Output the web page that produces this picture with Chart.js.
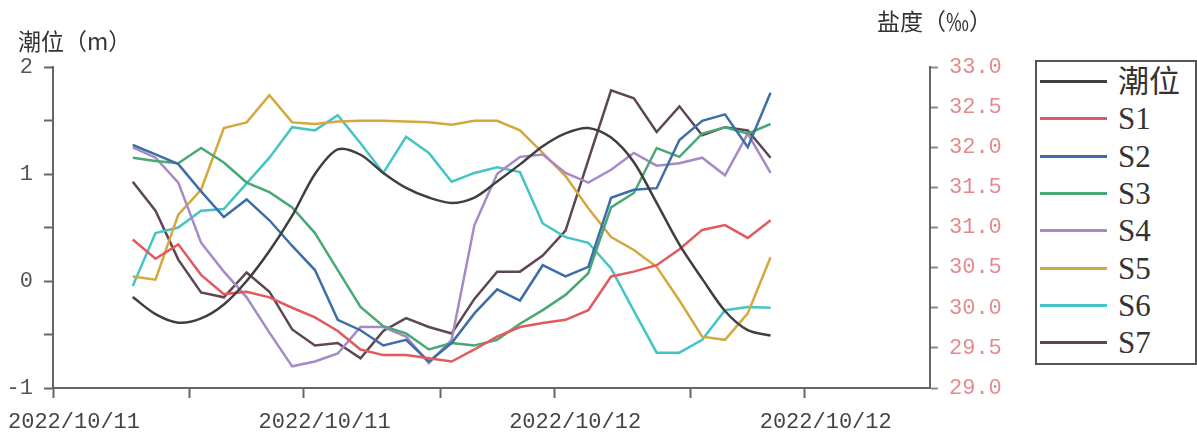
<!DOCTYPE html>
<html>
<head>
<meta charset="utf-8">
<script src="https://cdn.jsdelivr.net/npm/chart.js@4.4.1/dist/chart.umd.min.js"></script>
<style>
  html, body { margin: 0; padding: 0; background: #fff; }
  #wrap { position: relative; width: 1197px; height: 445px; overflow: hidden; }
  #chart { position: absolute; left: 0; top: 0; }
  .ttl { position: absolute; font-family: "Noto Sans CJK SC", sans-serif; font-size: 23px; color: #333; white-space: nowrap; line-height: 26px; }
  #legend { position: absolute; left: 1035px; top: 60px; width: 162px; height: 305px; border: 2px solid #555; box-sizing: border-box; background: #fff; }
  .row { position: absolute; left: 0; height: 36px; width: 200px; }
  .sw { position: absolute; left: 3px; top: 16px; width: 67px; height: 3px; }
  .lbl { position: absolute; left: 81px; top: 0; line-height: 36px; font-size: 31px; color: #333;
         font-family: "Liberation Serif", "Noto Sans CJK SC", serif; }
</style>
</head>
<body>
<div id="wrap">
  <canvas id="chart" width="1197" height="445"></canvas>
  <div class="ttl" style="left:18px; top:27px;">潮位（m）</div>
  <div class="ttl" style="left:877px; top:7px;">盐度（‰）</div>
  <div id="legend"></div>
</div>
<script>
// x axis: hourly samples 0..28, axis runs a bit wider than the data
const X_LABELS = ["2022/10/11", "2022/10/11", "2022/10/12", "2022/10/12"];
const MAJOR_TICKS = [-3.5, 7.5, 18.5, 29.5];
const MINOR_TICKS = [2.5, 13.5, 24.5];

// tide level (m), left axis
const TIDE = [-0.15, -0.31, -0.39, -0.35, -0.22, 0.0, 0.28, 0.61, 1.0, 1.23, 1.18, 1.01, 0.87, 0.78, 0.73,
  0.78, 0.93, 1.09, 1.26, 1.38, 1.43, 1.34, 1.11, 0.73, 0.34, 0.02, -0.28, -0.46, -0.51];

// salinity (‰), right axis
const S1 = [30.85, 30.61, 30.79, 30.41, 30.17, 30.2, 30.13, 30.0, 29.88, 29.71, 29.48, 29.41, 29.41, 29.37, 29.33,
  29.48, 29.64, 29.76, 29.81, 29.85, 29.97, 30.39, 30.45, 30.53, 30.73, 30.97, 31.03, 30.87, 31.09];
const S2 = [32.03, 31.91, 31.79, 31.45, 31.13, 31.35, 31.09, 30.77, 30.47, 29.85, 29.72, 29.53, 29.6, 29.33, 29.56,
  29.93, 30.23, 30.09, 30.53, 30.39, 30.51, 31.37, 31.47, 31.49, 32.09, 32.33, 32.41, 32.0, 32.68];
const S3 = [31.87, 31.83, 31.8, 31.99, 31.81, 31.56, 31.44, 31.25, 30.93, 30.47, 30.01, 29.77, 29.68, 29.48, 29.56,
  29.53, 29.6, 29.8, 29.97, 30.16, 30.43, 31.25, 31.43, 31.99, 31.88, 32.17, 32.25, 32.17, 32.29];
const S4 = [32.0, 31.87, 31.56, 30.81, 30.45, 30.13, 29.69, 29.27, 29.33, 29.43, 29.76, 29.76, 29.64, 29.31, 29.6,
  31.03, 31.67, 31.88, 31.91, 31.68, 31.56, 31.72, 31.93, 31.77, 31.8, 31.87, 31.65, 32.17, 31.68];
const S5 = [30.39, 30.35, 31.16, 31.47, 32.24, 32.31, 32.65, 32.31, 32.29, 32.32, 32.33, 32.33, 32.32, 32.31, 32.28,
  32.33, 32.33, 32.21, 31.93, 31.64, 31.24, 30.88, 30.72, 30.51, 30.09, 29.64, 29.6, 29.93, 30.63];
const S6 = [30.27, 30.93, 31.0, 31.21, 31.23, 31.55, 31.87, 32.25, 32.21, 32.4, 32.05, 31.68, 32.13, 31.93, 31.57,
  31.68, 31.75, 31.69, 31.05, 30.88, 30.81, 30.49, 29.96, 29.44, 29.44, 29.6, 29.97, 30.01, 30.0];
const S7 = [31.57, 31.21, 30.6, 30.19, 30.13, 30.44, 30.2, 29.73, 29.53, 29.56, 29.37, 29.71, 29.87, 29.76, 29.68,
  30.11, 30.45, 30.45, 30.65, 30.96, 31.84, 32.71, 32.61, 32.19, 32.51, 32.15, 32.25, 32.21, 31.87];

const SERIES = [
  { name: "潮位", data: TIDE, color: "#3f3f3f", axis: "y" },
  { name: "S1", data: S1, color: "#e05a5e", axis: "y1" },
  { name: "S2", data: S2, color: "#3d6ea8", axis: "y1" },
  { name: "S3", data: S3, color: "#4aa874", axis: "y1" },
  { name: "S4", data: S4, color: "#a68ac8", axis: "y1" },
  { name: "S5", data: S5, color: "#d4a83c", axis: "y1" },
  { name: "S6", data: S6, color: "#44c4c6", axis: "y1" },
  { name: "S7", data: S7, color: "#5e4654", axis: "y1" },
];

const AXIS_GRAY = "#666";
const MONO = "'Liberation Mono', 'DejaVu Sans Mono', monospace";

const datasets = SERIES.map((s) => ({
  label: s.name,
  data: s.data.map((v, i) => ({ x: i, y: v })),
  yAxisID: s.axis,
  borderColor: s.color,
  borderWidth: 2.5,
  pointRadius: 0,
  tension: s.axis === "y" ? 0.3 : 0,
  fill: false,
}));

new Chart(document.getElementById("chart"), {
  type: "line",
  data: { datasets },
  options: {
    responsive: false,
    animation: false,
    layout: { padding: { top: 67, left: 0, right: 0, bottom: 0 } },
    plugins: { legend: { display: false }, tooltip: { enabled: false } },
    scales: {
      x: {
        type: "linear",
        min: -3.5,
        max: 35,
        afterBuildTicks: (scale) => {
          scale.ticks = [...MAJOR_TICKS, ...MINOR_TICKS].sort((a, b) => a - b).map((v) => ({ value: v }));
        },
        afterFit: (scale) => {
          scale.height = 57;
          scale.paddingLeft = 0;
          scale.paddingRight = 0;
        },
        grid: { drawOnChartArea: false, drawTicks: true, tickLength: 10, tickColor: AXIS_GRAY, tickWidth: 2 },
        border: { display: true, color: AXIS_GRAY, width: 2 },
        ticks: {
          autoSkip: false,
          maxRotation: 0,
          labelOffset: 21,
          padding: 11,
          color: "#444",
          font: { family: MONO, size: 22 },
          callback: (v) => {
            const k = MAJOR_TICKS.indexOf(v);
            return k >= 0 ? X_LABELS[k] : "";
          },
        },
      },
      y: {
        position: "left",
        min: -1,
        max: 2,
        afterFit: (scale) => { scale.width = 53; },
        grid: { drawOnChartArea: false, drawTicks: true, tickLength: 9, tickColor: AXIS_GRAY, tickWidth: 2 },
        border: { display: true, color: AXIS_GRAY, width: 2 },
        ticks: {
          stepSize: 0.5,
          padding: 11,
          color: "#555",
          font: { family: MONO, size: 22 },
          callback: (v) => (Number.isInteger(v) ? String(v) : ""),
        },
      },
      y1: {
        position: "right",
        min: 29,
        max: 33,
        afterFit: (scale) => { scale.width = 267; },
        grid: { drawOnChartArea: false, drawTicks: true, tickLength: 8, tickColor: "#8a8a8a", tickWidth: 2 },
        border: { display: true, color: AXIS_GRAY, width: 2 },
        ticks: {
          stepSize: 0.25,
          padding: 11,
          color: "#e58a8c",
          font: { family: MONO, size: 22 },
          callback: (v) => (Math.abs(v * 2 - Math.round(v * 2)) < 1e-6 ? v.toFixed(1) : ""),
        },
      },
    },
  },
});

// legend box on the right
const legend = document.getElementById("legend");
SERIES.forEach((s, i) => {
  const row = document.createElement("div");
  row.className = "row";
  row.style.top = (2 + i * 37.3) + "px";
  const sw = document.createElement("div");
  sw.className = "sw";
  sw.style.background = s.color;
  const lbl = document.createElement("div");
  lbl.className = "lbl";
  lbl.textContent = s.name;
  row.appendChild(sw);
  row.appendChild(lbl);
  legend.appendChild(row);
});
</script>
</body>
</html>
